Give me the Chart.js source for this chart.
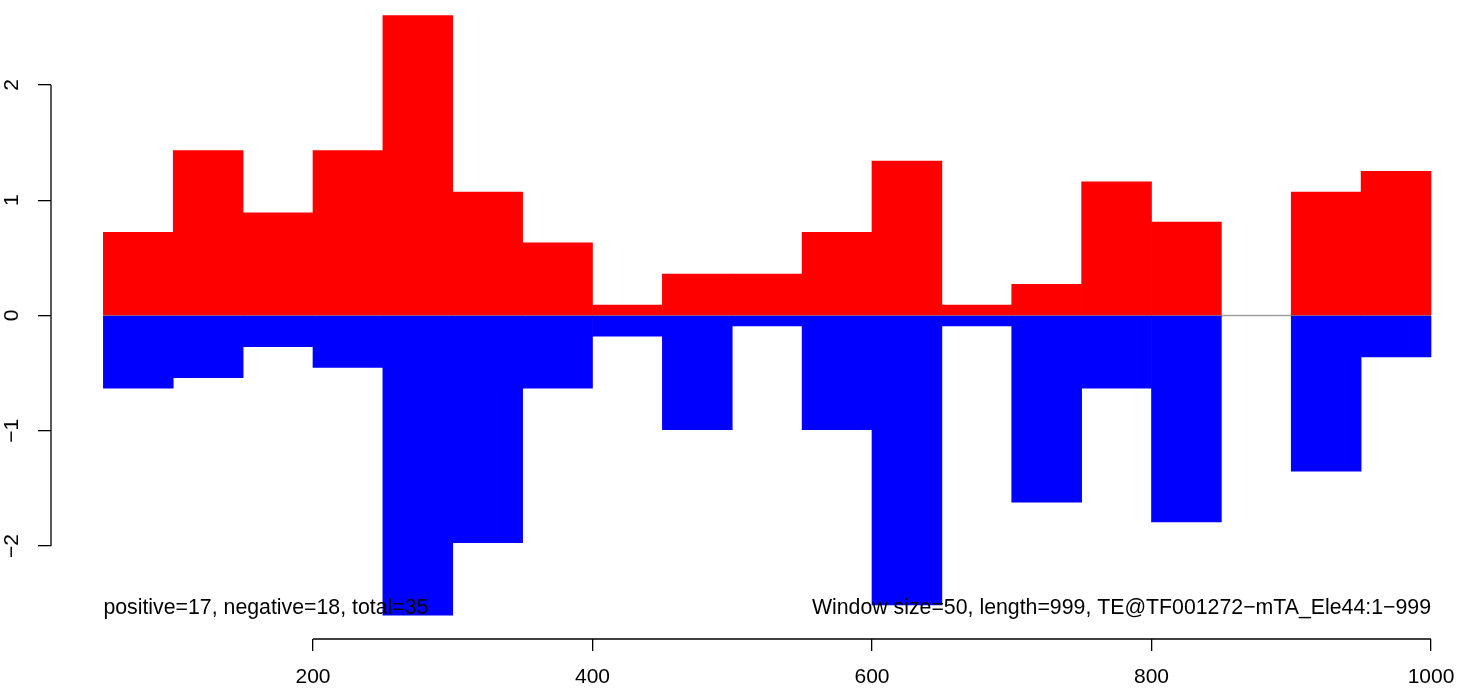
<!DOCTYPE html>
<html>
<head>
<meta charset="utf-8">
<script src="https://cdn.jsdelivr.net/npm/chart.js@4"></script>
<style>
  html, body { margin: 0; padding: 0; background: #fff; overflow: hidden; }
  #wrap { position: relative; width: 1472px; height: 689px; }
</style>
</head>
<body>
<div id="wrap"><canvas id="c" width="1472" height="689"></canvas></div>
<script>
// window centres (window size 50)
const windowCenters = [75, 125, 175, 225, 275, 325, 375, 425, 475, 525, 575, 625, 675, 725, 775, 825, 875, 925, 975];
const positiveValues = [0.72, 1.43, 0.89, 1.43, 2.60, 1.07, 0.63, 0.09, 0.36, 0.36, 0.72, 1.34, 0.09, 0.27, 1.16, 0.81, 0, 1.07, 1.25];
const negativeValues = [-0.63, -0.54, -0.27, -0.45, -2.60, -1.97, -0.63, -0.18, -0.99, -0.09, -0.99, -2.51, -0.09, -1.62, -0.63, -1.79, 0, -1.35, -0.36];
const baselineX = [50, 1000];
const baselineY = [0, 0];
const xTicks = [200, 400, 600, 800, 1000];
const xTickLabels = ['200', '400', '600', '800', '1000'];
const yTicks = [-2, -1, 0, 1, 2];
const yTickLabels = ['\u22122', '\u22121', '0', '1', '2'];
const leftNote = 'positive=17, negative=18, total=35';
const rightNote = 'Window size=50, length=999, TE@TF001272\u2212mTA_Ele44:1\u2212999';
const noteAnchor = { leftX: 50, rightX: 1000, y: -2.593 };

const FONT = '"Liberation Sans", Arial, Helvetica, sans-serif';

const axisPlugin = {
  id: 'rAxes',
  afterDatasetsDraw(chart) {
    const ctx = chart.ctx;
    const xs = chart.scales.x, ys = chart.scales.y;
    const area = chart.chartArea;
    ctx.save();
    ctx.strokeStyle = '#000';
    ctx.lineWidth = 1.3;
    ctx.beginPath();
    ctx.moveTo(area.left, ys.getPixelForValue(yTicks[0]));
    ctx.lineTo(area.left, ys.getPixelForValue(yTicks[yTicks.length - 1]));
    ctx.stroke();
    ctx.beginPath();
    ctx.moveTo(xs.getPixelForValue(xTicks[0]), area.bottom);
    ctx.lineTo(xs.getPixelForValue(xTicks[xTicks.length - 1]), area.bottom);
    ctx.stroke();
    ctx.fillStyle = '#000';
    ctx.font = '21.3px ' + FONT;
    ctx.textBaseline = 'alphabetic';
    const ny = ys.getPixelForValue(noteAnchor.y);
    ctx.textAlign = 'left';
    ctx.fillText(leftNote, xs.getPixelForValue(noteAnchor.leftX), ny);
    ctx.textAlign = 'right';
    ctx.fillText(rightNote, xs.getPixelForValue(noteAnchor.rightX), ny);
    ctx.restore();
  }
};

const barColor = (col) => (c) => (c.raw && c.raw.y !== 0 ? col : 'rgba(0,0,0,0)');

new Chart(document.getElementById('c'), {
  type: 'bar',
  data: {
    datasets: [
      {
        type: 'line',
        data: baselineX.map((x, i) => ({ x: x, y: baselineY[i] })),
        borderColor: '#a0a0a0',
        borderWidth: 1.5,
        pointRadius: 0,
        order: 3
      },
      {
        data: windowCenters.map((x, i) => ({ x: x, y: positiveValues[i] })),
        backgroundColor: barColor('#ff0000'),
        borderWidth: 0,
        grouped: false,
        barPercentage: 1,
        categoryPercentage: 1,
        order: 1
      },
      {
        data: windowCenters.map((x, i) => ({ x: x, y: negativeValues[i] })),
        backgroundColor: barColor('#0000ff'),
        borderWidth: 0,
        grouped: false,
        barPercentage: 1,
        categoryPercentage: 1,
        order: 2
      }
    ]
  },
  options: {
    responsive: false,
    animation: false,
    layout: { padding: 0 },
    plugins: { legend: { display: false }, tooltip: { enabled: false } },
    scales: {
      x: {
        type: 'linear',
        offset: false,
        min: 12.52,
        max: 1029.34,
        afterBuildTicks(scale) { scale.ticks = xTicks.map(v => ({ value: v })); },
        afterFit(scale) { scale.height = 50; scale.paddingLeft = 0; scale.paddingRight = 0; },
        border: { display: false },
        grid: { offset: false, drawOnChartArea: false, drawTicks: true, tickLength: 12, color: '#000', lineWidth: 1.3 },
        ticks: {
          color: '#000',
          font: { family: FONT, size: 21 },
          padding: 14,
          maxRotation: 0,
          autoSkip: false,
          callback: (v, i) => xTickLabels[i]
        }
      },
      y: {
        type: 'linear',
        min: -2.806,
        max: 2.736,
        afterBuildTicks(scale) { scale.ticks = yTicks.map(v => ({ value: v })); },
        afterFit(scale) { scale.width = 51; scale.paddingTop = 0; scale.paddingBottom = 0; },
        border: { display: false },
        grid: { drawOnChartArea: false, drawTicks: true, tickLength: 13, color: '#000', lineWidth: 1.3 },
        ticks: {
          color: '#000',
          font: { family: FONT, size: 21 },
          padding: 14,
          minRotation: 90,
          maxRotation: 90,
          crossAlign: 'center',
          autoSkip: false,
          callback: (v, i) => yTickLabels[i]
        }
      }
    }
  },
  plugins: [axisPlugin]
});
</script>
</body>
</html>
